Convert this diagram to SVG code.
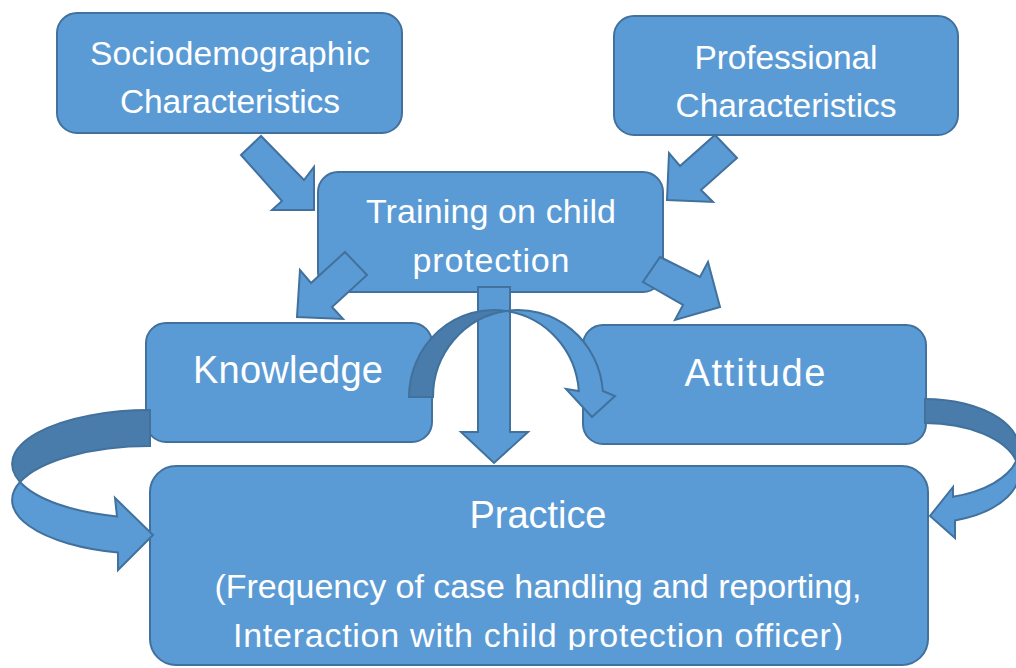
<svg xmlns="http://www.w3.org/2000/svg" width="1016" height="668" viewBox="0 0 1016 668">
  <style>
    .box { fill: #5B9BD5; stroke: #41719C; stroke-width: 2; }
    .arrow { fill: #5B9BD5; stroke: #41719C; stroke-width: 2; stroke-linejoin: miter; }
    .back { fill: #497CAA; stroke: #41719C; stroke-width: 2; }
    .label { fill: #FFFFFF; font-family: "Liberation Sans", Arial, sans-serif; text-anchor: middle; }
  </style>
  <defs>
    <clipPath id="practiceClip">
      <rect x="150" y="466" width="778" height="184"/>
    </clipPath>
  </defs>
  <rect width="1016" height="668" fill="#FFFFFF"/>

  <g id="sociodemographic">
    <rect class="box" x="57" y="13" width="345" height="120" rx="20"/>
    <text class="label" x="230" y="65" font-size="33.5" textLength="280">Sociodemographic</text>
    <text class="label" x="230" y="113" font-size="33.5" textLength="220">Characteristics</text>
  </g>

  <g id="professional">
    <rect class="box" x="614" y="16" width="344" height="119" rx="20"/>
    <text class="label" x="786" y="69" font-size="33.5" textLength="183">Professional</text>
    <text class="label" x="786" y="117" font-size="33.5" textLength="221">Characteristics</text>
  </g>

  <g id="training">
    <rect class="box" x="318" y="172" width="345" height="120" rx="20"/>
    <text class="label" x="491" y="223" font-size="34" textLength="250">Training on child</text>
    <text class="label" x="491" y="272" font-size="34" textLength="157">protection</text>
  </g>

  <g id="knowledge">
    <rect class="box" x="146" y="323" width="286" height="119" rx="20"/>
    <text class="label" x="288" y="383" font-size="38" textLength="190">Knowledge</text>
  </g>

  <g id="attitude">
    <rect class="box" x="583" y="325" width="343" height="119" rx="20"/>
    <text class="label" x="755" y="386" font-size="38" textLength="141">Attitude</text>
  </g>

  <g id="practice">
    <rect class="box" x="150" y="466" width="778" height="199" rx="26"/>
    <g clip-path="url(#practiceClip)">
      <text class="label" x="538" y="528" font-size="38" textLength="137">Practice</text>
      <text class="label" x="538" y="598" font-size="34" textLength="647">(Frequency of case handling and reporting,</text>
      <text class="label" x="538" y="647" font-size="34" textLength="610">Interaction with child protection officer)</text>
    </g>
  </g>

  <g id="connectors">
    <!-- block arrows into and out of the training box -->
    <polygon class="arrow" points="241,155 261,136 304,180 314,167 314,210 272,210 282,201"/>
    <polygon class="arrow" points="715,135 737,158 701,190 713,202 667,200 669,153 680,166"/>
    <polygon class="arrow" points="345,252 367,275 332,307 343,319 297,317 300,270 311,283"/>
    <polygon class="arrow" points="660,257 700,277 708,262 720,307 675,320 683,305 643,282"/>
    <polygon class="arrow" points="478,287 510,287 510,432 528,432 494,463 461,432 478,432"/>

    <!-- curved arrow knowledge to attitude -->
    <path class="back" d="M409,397 A85,87 0 0 1 506,310.9 A85,87 0 0 0 433,397 Z"/>
    <path class="arrow" d="M506,310.9 A85,87 0 0 1 602.8,391 L615,396 L592,417 L566,389 L578.8,391 A85,87 0 0 0 506,310.9 Z"/>

    <!-- curved arrow knowledge to practice -->
    <path class="back" d="M150,410 A138,54 0 0 0 20,482 A138,54 0 0 1 150,446 Z"/>
    <path class="arrow" d="M20,482 A138,54 0 0 0 117,516.4 L115,498 L153,535 L118,570 L118,552.5 A138,54 0 0 1 20,482 Z"/>

    <!-- curved arrow attitude to practice -->
    <path class="back" d="M925,399 A94,50 0 0 1 1016.25,461 A94,50 0 0 0 925,423 Z"/>
    <path class="arrow" d="M1016.25,461 A94,50 0 0 1 953,496.7 L953,487 L930,516 L955,538 L955,520.4 A94,50 0 0 0 1016.25,461 Z"/>
  </g>
</svg>
